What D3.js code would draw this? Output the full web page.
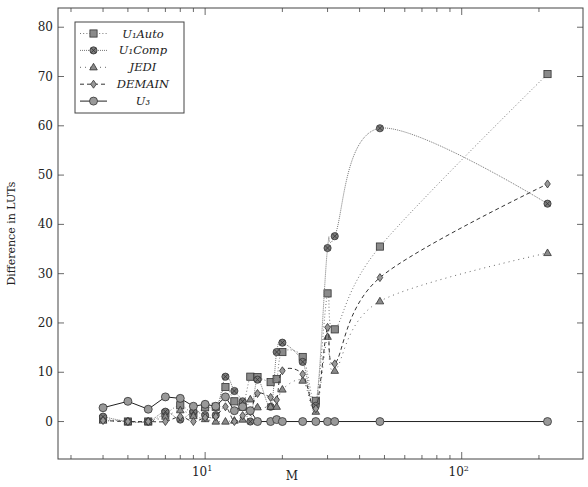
<!DOCTYPE html>
<html><head><meta charset="utf-8">
<script src="https://cdn.jsdelivr.net/npm/d3@7"></script>
<style>body{margin:0;background:#fff}svg{display:block}</style>
</head><body>
<script>
const xs = [4,5,6,7,8,9,10,11,12,13,14,15,16,18,19,20,24,27,30,32,48,216];
const u1auto = [0.5,0,0,1.6,3.3,1.6,2.9,3.0,7.0,4.1,3.0,9.1,9.0,8.0,8.6,14.1,13.1,4.2,26.0,18.7,35.5,70.5];
const u1comp = [1.0,0,0,2.0,0.4,2.0,1.3,1.3,9.1,6.2,4.1,0,8.5,3.0,14.1,16.0,12.1,3.2,35.2,37.6,59.5,44.2];
const jedi   = [0.2,0,0,1.0,2.3,1.1,0.5,0,0,0.2,0.4,4.5,2.9,3.0,3.0,6.5,8.3,2.0,17.2,10.3,24.4,34.2];
const demain = [0.2,0,0,0,1.0,0,0.8,1.0,3.0,0,1.2,2.0,5.7,4.9,4.4,10.3,9.6,2.6,19.1,11.7,29.2,48.2];
const u3     = [2.8,4.1,2.5,5.0,4.7,3.1,3.5,3.1,5.0,2.2,3.0,2.2,0,0,0.4,0,0,0,0,0,0,0];
const yTicks = [0,10,20,30,40,50,60,70,80];
const legendLabels = ["U₁Auto","U₁Comp","JEDI","DEMAIN","U₃"];

const W=588,H=487, L=58,R=583,T=8,B=459;
const svg=d3.select("body").append("svg").attr("width",W).attr("height",H);
const x=d3.scaleLog().domain([2.67,297]).range([L,R]);
const y=d3.scaleLinear().domain([-7.6,83.9]).range([B,T]);
const font="'DejaVu Serif','Liberation Serif',serif";
const axisCol="#444";

svg.append("rect").attr("x",L).attr("y",T).attr("width",R-L).attr("height",B-T)
  .attr("fill","none").attr("stroke",axisCol).attr("stroke-width",1);

const minor=[3,4,5,6,7,8,9,20,30,40,50,60,70,80,90,200];
const major=[10,100];
const g=svg.append("g").attr("stroke",axisCol).attr("stroke-width",0.8);
minor.forEach(v=>{const px=x(v);
  g.append("line").attr("x1",px).attr("x2",px).attr("y1",B).attr("y2",B-4);
  g.append("line").attr("x1",px).attr("x2",px).attr("y1",T).attr("y2",T+4);});
major.forEach(v=>{const px=x(v);
  g.append("line").attr("x1",px).attr("x2",px).attr("y1",B).attr("y2",B-7);
  g.append("line").attr("x1",px).attr("x2",px).attr("y1",T).attr("y2",T+7);});
yTicks.forEach(v=>{const py=y(v);
  g.append("line").attr("x1",L).attr("x2",L+6).attr("y1",py).attr("y2",py);
  g.append("line").attr("x1",R).attr("x2",R-6).attr("y1",py).attr("y2",py);});

yTicks.forEach(v=>{
  svg.append("text").attr("x",L-5).attr("y",y(v)+4).attr("text-anchor","end")
    .attr("font-family",font).attr("font-size",12).attr("fill","#222").text(v);});
major.forEach((v,i)=>{
  const t=svg.append("text").attr("x",x(v)-3).attr("y",B+17).attr("text-anchor","middle")
    .attr("font-family",font).attr("font-size",12).attr("fill","#222");
  t.append("tspan").text("10");
  t.append("tspan").attr("font-size",8).attr("dy",-5).text(i===0?"1":"2");});

svg.append("text").attr("x",292).attr("y",480).attr("text-anchor","middle")
  .attr("font-family",font).attr("font-size",12).attr("fill","#222").text("M");
svg.append("text").attr("transform",`translate(15,${(T+B)/2}) rotate(-90)`)
  .attr("text-anchor","middle").attr("font-family",font).attr("font-size",11)
  .attr("fill","#222").text("Difference in LUTs");

function marker(sel,type,cx,cy){
  const m=sel.append("g").attr("transform",`translate(${cx},${cy})`);
  if(type==="square"){
    m.append("rect").attr("x",-3.6).attr("y",-3.6).attr("width",7.2).attr("height",7.2)
      .attr("fill","#8a8a8a").attr("stroke","#333").attr("stroke-width",0.8);
  } else if(type==="otimes"){
    m.append("circle").attr("r",3.6).attr("fill","#7a7a7a").attr("stroke","#333").attr("stroke-width",0.8);
    const d=2.5;
    m.append("path").attr("d",`M${-d},${-d}L${d},${d}M${-d},${d}L${d},${-d}`).attr("stroke","#333").attr("stroke-width",0.8);
  } else if(type==="triangle"){
    m.append("path").attr("d","M0,-4L3.8,2.6L-3.8,2.6Z").attr("fill","#8a8a8a").attr("stroke","#333").attr("stroke-width",0.8);
  } else if(type==="diamond"){
    m.append("path").attr("d","M0,-4L2.8,0L0,4L-2.8,0Z").attr("fill","#999").attr("stroke","#333").attr("stroke-width",0.8);
  } else if(type==="circle"){
    m.append("circle").attr("r",4).attr("fill","#999").attr("stroke","#333").attr("stroke-width",0.8);
  }
}

const series=[
  {vals:u1auto,type:"square",dash:"1,2.2",col:"#777",curve:d3.curveCatmullRom.alpha(0)},
  {vals:u1comp,type:"otimes",dash:"1,1",col:"#777",curve:d3.curveCatmullRom.alpha(0)},
  {vals:jedi,type:"triangle",dash:"1,4",col:"#666",curve:d3.curveCatmullRom.alpha(0)},
  {vals:demain,type:"diamond",dash:"4,3",col:"#333",curve:d3.curveCatmullRom.alpha(0)},
  {vals:u3,type:"circle",dash:null,col:"#222",curve:d3.curveLinear}
];

const plot=svg.append("g");
series.forEach(s=>{
  const line=d3.line().x((d,i)=>x(xs[i])).y(d=>y(d)).curve(s.curve);
  plot.append("path").attr("d",line(s.vals)).attr("fill","none").attr("stroke",s.col)
    .attr("stroke-width",1).attr("stroke-dasharray",s.dash);
  s.vals.forEach((v,i)=>marker(plot,s.type,x(xs[i]),y(v)));
});

const lg=svg.append("g");
lg.append("rect").attr("x",75).attr("y",22).attr("width",109).attr("height",91)
  .attr("fill","#fff").attr("stroke",axisCol).attr("stroke-width",1);
series.forEach((s,i)=>{
  const ly=33.5+i*16.9;
  lg.append("line").attr("x1",80).attr("x2",107).attr("y1",ly).attr("y2",ly)
    .attr("stroke",s.col).attr("stroke-width",1).attr("stroke-dasharray",s.dash);
  marker(lg,s.type,93.5,ly);
  lg.append("text").attr("x",143).attr("y",ly+4).attr("text-anchor","middle")
    .attr("font-family",font).attr("font-size",11.5).attr("font-style","italic")
    .attr("fill","#222").text(legendLabels[i]);
});
</script>
</body></html>
